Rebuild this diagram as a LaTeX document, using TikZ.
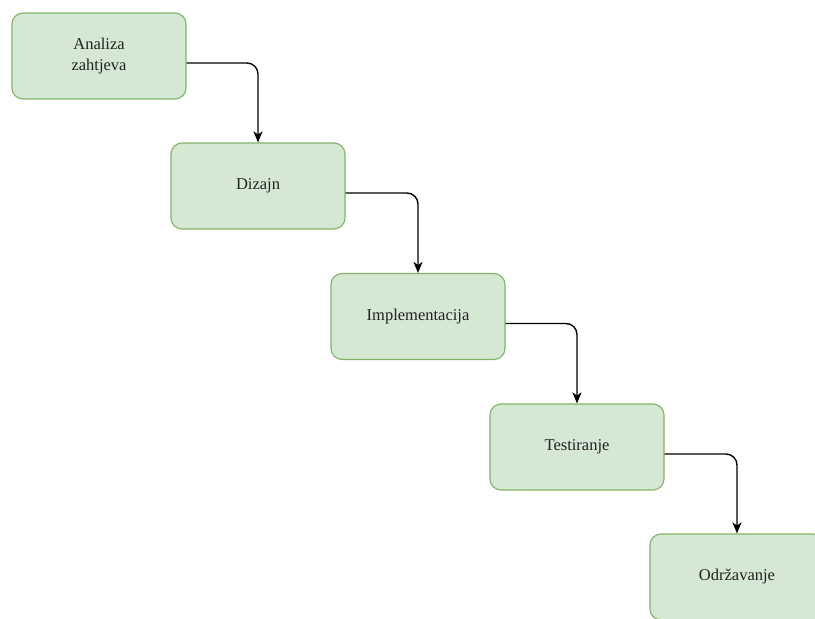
\documentclass[tikz,border=0pt]{standalone}
\usepackage{fontspec}
\setmainfont{Liberation Serif}
\usetikzlibrary{arrows.meta}
\definecolor{boxfill}{HTML}{D5E8D4}
\definecolor{boxline}{HTML}{82B366}
\definecolor{txt}{HTML}{222222}
\tikzset{
  phase/.style={draw=boxline, fill=boxfill, line width=1.1pt, rounded corners=11pt,
    minimum width=174pt, minimum height=86pt, inner sep=0pt, align=center,
    text=txt, font=\fontsize{16.5pt}{21pt}\selectfont},
  arr/.style={draw=black, line width=1.4pt, rounded corners=11pt,
    -{Stealth[length=11pt,width=9pt,inset=3pt]}}
}
\begin{document}
\begin{tikzpicture}[x=1pt,y=-1pt]
\clip (0,0) rectangle (815,619);
\fill[white] (0,0) rectangle (815,619);
\node[phase] (b1) at (99,56) {Analiza\\zahtjeva};
\node[phase] (b2) at (258,186) {Dizajn};
\node[phase] (b3) at (418,316.5) {Implementacija};
\node[phase] (b4) at (577,447) {Testiranje};
\node[phase] (b5) at (737,577) {Održavanje};
\draw[arr] ([yshift=-7pt]b1.east) -| (b2.north);
\draw[arr] ([yshift=-7pt]b2.east) -| (b3.north);
\draw[arr] ([yshift=-7pt]b3.east) -| (b4.north);
\draw[arr] ([yshift=-7pt]b4.east) -| (b5.north);
\end{tikzpicture}
\end{document}
